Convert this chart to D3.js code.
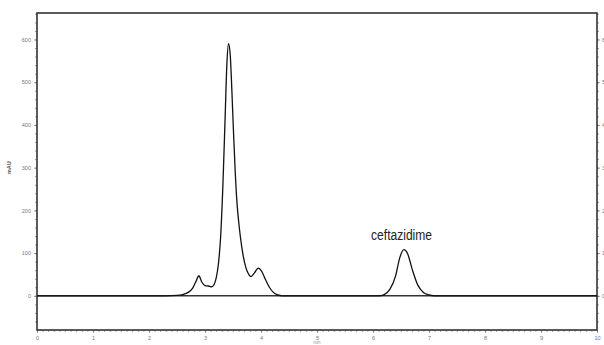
<!DOCTYPE html>
<html lang="en">
<head>
<meta charset="UTF-8">
<title>Chromatogram</title>
<script src="https://d3js.org/d3.v7.min.js"></script>
<style>
  body { margin: 0; background: #fff; }
  text { font-family: "Liberation Sans", Arial, sans-serif; }
</style>
</head>
<body>
<div id="chart"></div>
<script>
    // Retention time (min) and absorbance (mAU)
    const times = [0, 2.3, 2.5, 2.6, 2.7, 2.78, 2.84, 2.89, 2.94, 3.0, 3.06, 3.12, 3.16, 3.2, 3.24, 3.28, 3.32, 3.36, 3.39, 3.42, 3.45, 3.48, 3.51, 3.54, 3.57, 3.6, 3.63, 3.68, 3.73, 3.77, 3.82, 3.88, 3.95, 4.01, 4.08, 4.15, 4.22, 4.3, 4.38,
                   6.1, 6.2, 6.3, 6.4, 6.48, 6.55, 6.62, 6.7, 6.8, 6.9, 7.0, 7.1, 10];
    const mAU = [0, 0, 1, 3, 8, 18, 34, 47, 33, 24, 23, 21, 26, 42, 75, 140, 260, 420, 540, 590, 565, 480, 380, 290, 220, 175, 140, 95, 66, 53, 45, 53, 65, 58, 38, 20, 8, 2, 0,
                 0, 3, 15, 45, 90, 108, 98, 62, 25, 8, 2, 0, 0];
    const leftTicks = [0, 100, 200, 300, 400, 500, 600];
    const rightTicks = [0, 1, 2, 3, 4, 5, 6];
    const xTicks = [0, 1, 2, 3, 4, 5, 6, 7, 8, 9, 10];
    const peakLabel = { name: "ceftazidime", t: 6.51, v: 131 };

    const width = 604, height = 345;
    const m = { left: 37, right: 7, top: 13, bottom: 15 };

    const svg = d3.select("#chart").append("svg")
        .attr("width", width).attr("height", height);

    const x = d3.scaleLinear().domain([0, 10]).range([m.left, width - m.right]);
    const y = d3.scaleLinear().domain([-80, 662]).range([height - m.bottom, m.top]);
    const yRight = d3.scaleLinear().domain([-0.8, 6.62]).range(y.range());

    const tickColor = "#666";

    // left axis with minor ticks
    const gl = svg.append("g").attr("transform", `translate(${m.left},0)`);
    gl.call(d3.axisLeft(y).tickValues(d3.range(-60, 661, 20)).tickSize(2).tickFormat(""));
    gl.append("g").call(d3.axisLeft(y).tickValues(leftTicks).tickSize(3).tickPadding(3));

    // right axis
    const gr = svg.append("g").attr("transform", `translate(${width - m.right},0)`);
    gr.call(d3.axisRight(yRight).tickValues(d3.range(-0.6, 6.61, 0.2)).tickSize(2).tickFormat(""));
    gr.append("g").call(d3.axisRight(yRight).tickValues(rightTicks).tickSize(3).tickPadding(2));

    // bottom axis
    const gb = svg.append("g").attr("transform", `translate(0,${height - m.bottom})`);
    gb.call(d3.axisBottom(x).tickValues(d3.range(0, 10.01, 0.1)).tickSize(2).tickFormat(""));
    gb.append("g").call(d3.axisBottom(x).tickValues(xTicks).tickSize(3).tickPadding(3));

    svg.selectAll(".domain").remove();
    svg.selectAll(".tick line").attr("stroke", tickColor).attr("stroke-width", 0.6);
    svg.selectAll(".tick text").attr("fill", "#777").style("font-size", "5.5px");

    // frame
    svg.append("rect")
        .attr("x", m.left).attr("y", m.top)
        .attr("width", width - m.left - m.right)
        .attr("height", height - m.top - m.bottom)
        .attr("fill", "none").attr("stroke", "#333").attr("stroke-width", 1.6);

    // zero line
    svg.append("line")
        .attr("x1", m.left).attr("x2", width - m.right)
        .attr("y1", y(0)).attr("y2", y(0))
        .attr("stroke", "#333").attr("stroke-width", 1.4);

    // trace
    const pts = times.map((t, i) => [t, mAU[i]]);
    svg.append("path")
        .datum(pts)
        .attr("fill", "none")
        .attr("stroke", "#111")
        .attr("stroke-width", 1.3)
        .attr("d", d3.line().x(d => x(d[0])).y(d => y(d[1])).curve(d3.curveMonotoneX));

    // peak label
    svg.append("text")
        .attr("x", x(peakLabel.t)).attr("y", y(peakLabel.v))
        .attr("text-anchor", "middle")
        .attr("textLength", 61).attr("lengthAdjust", "spacingAndGlyphs")
        .style("font-size", "14px").attr("fill", "#222")
        .text(peakLabel.name);

    // axis titles
    svg.append("text")
        .attr("transform", `translate(11,${y(300)}) rotate(-90)`)
        .attr("text-anchor", "middle")
        .style("font-size", "5.5px").style("font-weight", "bold").attr("fill", "#555")
        .text("mAU");
    svg.append("text")
        .attr("x", x(5)).attr("y", 344)
        .attr("text-anchor", "middle")
        .style("font-size", "4.5px").attr("fill", "#999")
        .text("min");
</script>
</body>
</html>
